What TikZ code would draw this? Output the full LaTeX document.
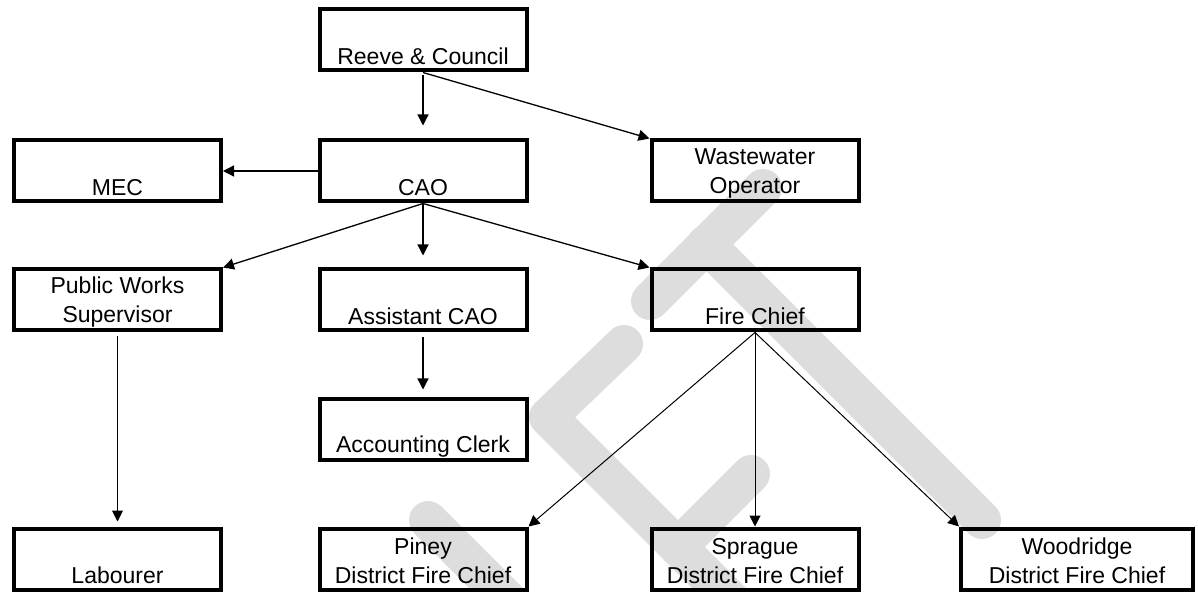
\documentclass[tikz,border=0pt]{standalone}
\usepackage{fontspec}
\setmainfont{Liberation Sans}
\usetikzlibrary{arrows.meta}
\definecolor{wmGray}{HTML}{DDDDDD}
\tikzset{
  orgbox/.style={draw=black, line width=2pt, minimum width=103.5pt, minimum height=30.5pt, align=center, inner sep=0pt, font=\fontsize{11.5}{14.5}\selectfont},
  arr/.style={-{Triangle[length=5.5pt,width=5.5pt]}, line width=0.65pt, draw=black},
  arrthin/.style={-{Triangle[length=5.5pt,width=5.5pt]}, line width=0.5pt, draw=black},
  wmstroke/.style={draw=wmGray, line width=19pt, line cap=round, line join=round}
}

\begin{document}
\begin{tikzpicture}[x=0.5pt,y=-0.5pt]
  \useasboundingbox (0,0) rectangle (1198,592);
  \clip (0,0) rectangle (1198,592);
  \draw[wmstroke] (650,301) -- (763,188);
  \draw[wmstroke] (706,244) -- (982,520);
  \draw[wmstroke] (624,344) -- (548,417) -- (848,717);
  \draw[wmstroke] (678,547) -- (751,474);
  \draw[wmstroke] (428,520) -- (560,652);

  \node[orgbox] (reeve) at (423,40) {\strut\\Reeve \& Council};
  \node[orgbox] (mec) at (117.5,171) {\strut\\MEC};
  \node[orgbox] (cao) at (423,171) {\strut\\CAO};
  \node[orgbox] (waste) at (755,171) {\strut Wastewater\\Operator};
  \node[orgbox] (pworks) at (117.5,300) {\strut Public Works\\Supervisor};
  \node[orgbox] (asst) at (423,300) {\strut\\Assistant CAO};
  \node[orgbox] (fire) at (755,300) {\strut\\Fire Chief};
  \node[orgbox] (clerk) at (423,430) {\strut\\Accounting Clerk};
  \node[orgbox] (labour) at (117.5,559) {\strut\\Labourer};
  \node[orgbox] (piney) at (423,559) {\strut Piney\\District Fire Chief};
  \node[orgbox] (sprague) at (755,559) {\strut Sprague\\District Fire Chief};
  \node[orgbox, minimum width=116pt] (wood) at (1077,559) {\strut Woodridge\\District Fire Chief};

  \draw[arr, shorten <=1.5pt, shorten >=6.5pt] (reeve.south) -- (cao.north);
  \draw[arr] (reeve.south) -- (waste.north west);
  \draw[arr] (cao.west) -- (mec.east);
  \draw[arr] (cao.south) -- (pworks.north east);
  \draw[arr, shorten >=6pt] (cao.south) -- (asst.north);
  \draw[arr] (cao.south) -- (fire.north west);
  \draw[arrthin, shorten <=2pt, shorten >=2.5pt] (pworks.south) -- (labour.north);
  \draw[arr, shorten <=2.5pt, shorten >=4pt] (asst.south) -- (clerk.north);
  \foreach \kid/\corner in {piney/north east, sprague/north, wood/north west}
    \draw[arrthin] (fire.south) -- (\kid.\corner);
\end{tikzpicture}
\end{document}
